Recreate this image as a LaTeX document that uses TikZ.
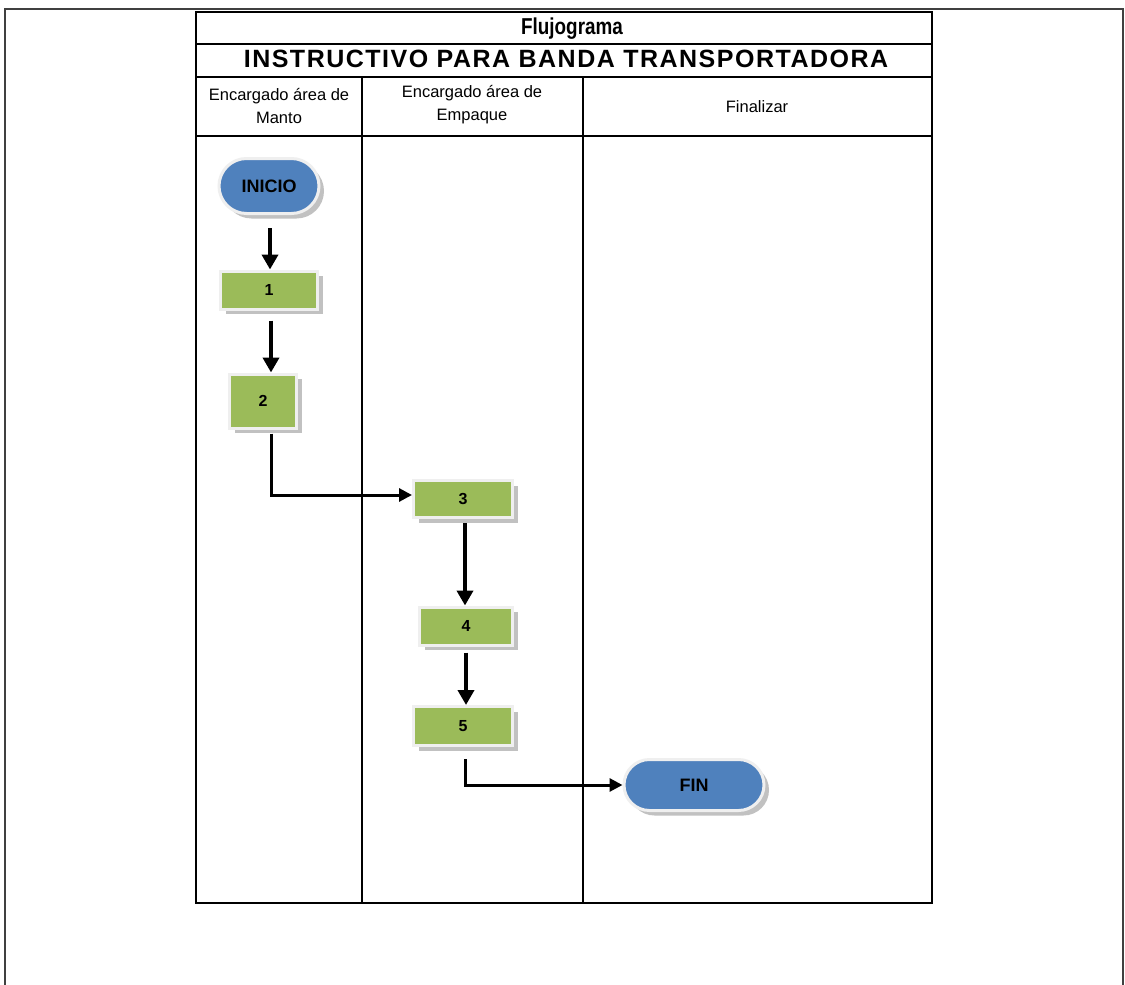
\documentclass[tikz,border=0pt]{standalone}
\usepackage{fontspec}
\setmainfont{Liberation Sans}
\newfontfamily\condfont[FakeStretch=0.82]{Liberation Sans}
\newfontfamily\titlefont[LetterSpace=6]{Liberation Sans}
\usetikzlibrary{shapes.misc,shadows,arrows.meta}
\definecolor{boxgreen}{HTML}{9BBB59}
\definecolor{termblue}{HTML}{4F81BD}
\definecolor{framegray}{HTML}{EFEFEF}
\begin{document}
\begin{tikzpicture}[x=1pt,y=-1pt,
  stepbox/.style={rectangle, fill=boxgreen, draw=framegray, line width=3pt, inner sep=0pt,
    drop shadow={shadow xshift=5pt,shadow yshift=-5pt,fill=gray!60,opacity=.8},
    font=\fontsize{16}{18}\selectfont\bfseries},
  term/.style={rounded rectangle, fill=termblue, draw=framegray, line width=3pt, inner sep=0pt,
    drop shadow={shadow xshift=5pt,shadow yshift=-5pt,fill=gray!60,opacity=.8},
    font=\fontsize{18}{20}\selectfont\bfseries},
  flow/.style={line width=3.8pt, -{Triangle[length=15pt,width=16pt]}},
  flowh/.style={line width=3pt, -{Triangle[length=13pt,width=13pt]}},
  grid/.style={line width=1.2pt, black},
  hdr/.style={align=center, font=\fontsize{16.5}{23}\selectfont, inner sep=0pt}
]
\useasboundingbox (0,0) rectangle (1125,985);
\fill[white] (0,0) rectangle (1125,985);

% outer frame
\draw[line width=2pt, black!75] (5,985) -- (5,9) -- (1123,9) -- (1123,985);

% table
\draw[grid] (196,12) rectangle (932,903);
\draw[grid] (196,44) -- (932,44);
\draw[grid] (196,77) -- (932,77);
\draw[grid] (196,136) -- (932,136);
\draw[grid] (362,77) -- (362,903);
\draw[grid] (583,77) -- (583,903);

\node[inner sep=0pt, font=\fontsize{23}{25}\condfont\bfseries] (flujo) at (572,29) {Flujograma};
\node[inner sep=0pt, font=\fontsize{25}{27}\titlefont\bfseries] (titulo) at (566,59) {INSTRUCTIVO PARA BANDA TRANSPORTADORA};
\node[hdr] (h1) at (279,106) {Encargado área de\\Manto};
\node[hdr] (h2) at (472,105) {Encargado área de\\Empaque};
\node[hdr] (h3) at (757,107) {Finalizar};

% nodes
\node[term, minimum width=100, minimum height=55] (inicio) at (269,186) {INICIO};
\node[stepbox, minimum width=97, minimum height=38] (b1) at (269,290) {1};
\node[stepbox, minimum width=67, minimum height=54] (b2) at (263,401) {2};
\node[stepbox, minimum width=99, minimum height=37] (b3) at (463,499) {3};
\node[stepbox, minimum width=93, minimum height=38] (b4) at (466,626) {4};
\node[stepbox, minimum width=99, minimum height=39] (b5) at (463,726) {5};
\node[term, minimum width=140, minimum height=51] (fin) at (694,785) {FIN};

% connectors
\draw[flow, shorten <=13pt] ([xshift=1pt]inicio.south) -- ([xshift=1pt]inicio.south |- b1.north);
\draw[flow, shorten <=10pt] ([xshift=2pt]b1.south) -- ([xshift=2pt]b1.south |- b2.north);
\draw[flowh, shorten <=4pt] ([xshift=8pt]b2.south) |- ([yshift=4pt]b3.west);
\draw[flow, shorten <=4pt] ([xshift=2pt]b3.south) -- ([xshift=2pt]b3.south |- b4.north);
\draw[flow, shorten <=6pt] (b4.south) -- (b4.south |- b5.north);
\draw[flowh, shorten <=12pt] ([xshift=2pt]b5.south) |- (fin.west);
\end{tikzpicture}
\end{document}
